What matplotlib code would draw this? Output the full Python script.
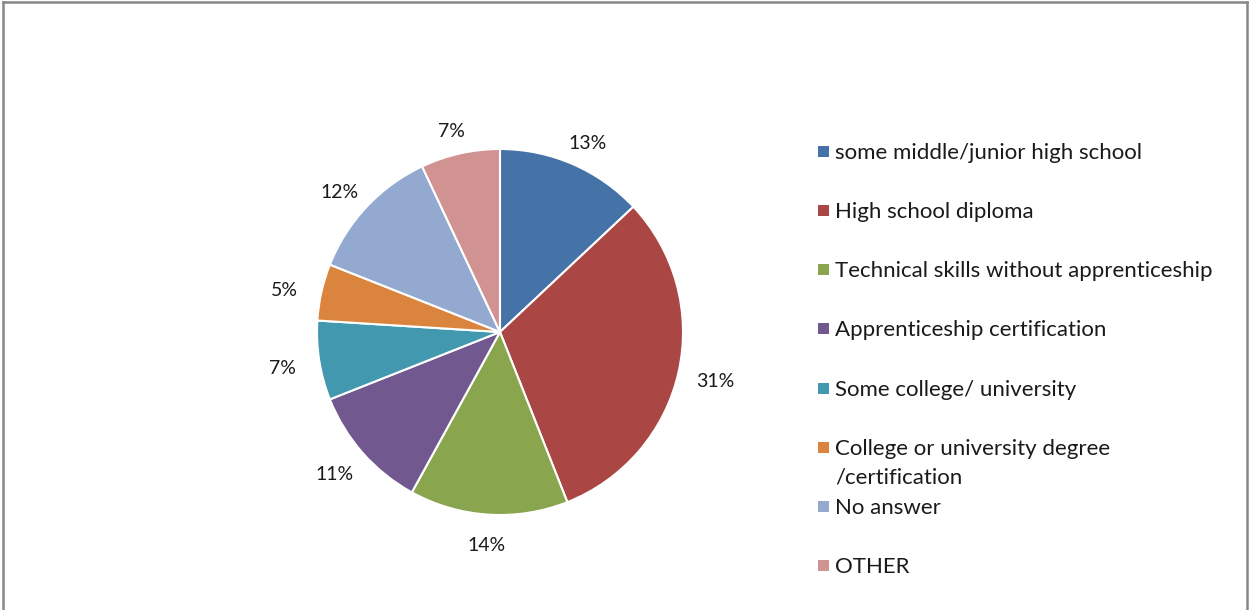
import numpy as np
import matplotlib.pyplot as plt
from matplotlib.lines import Line2D
from matplotlib.patches import Rectangle

plt.rcParams['font.family'] = ['Lato', 'DejaVu Sans']

categories = [
    "some middle/junior high school",
    "High school diploma",
    "Technical skills without apprenticeship",
    "Apprenticeship certification",
    "Some college/ university",
    "College or university degree\n/certification",
    "No answer",
    "OTHER",
]
shares = [13, 31, 14, 11, 7, 5, 12, 7]
colors = ["#4572A7", "#AA4643", "#89A54E", "#71588F",
          "#4198AF", "#DB843D", "#93A9CF", "#D19392"]

W, H = 1250, 610
fig = plt.figure(figsize=(W / 100, H / 100), dpi=100)
TEXT = "#1a1a1a"

# pie centred at (500, 332) px with a 183 px radius
cx, cy, r = 500, 332, 183
ax = fig.add_axes([(cx - r) / W, (H - cy - r) / H, 2 * r / W, 2 * r / H])
wedges, _ = ax.pie(
    shares, colors=colors, startangle=90, counterclock=False,
    wedgeprops=dict(edgecolor="white", linewidth=1.5),
)
ax.set_xlim(-1, 1)
ax.set_ylim(-1, 1)
ax.set_aspect("equal")
ax.axis("off")

# percentage labels just outside each wedge, pushed out by half the label box
for w, val in zip(wedges, shares):
    theta = np.deg2rad((w.theta1 + w.theta2) / 2)
    c, s = np.cos(theta), np.sin(theta)
    ax.annotate(f"{val}%", xy=(1.1 * c, 1.1 * s),
                xytext=(14 * c, 6 * s - 3), textcoords="offset points",
                ha="center", va="center", fontsize=14, color=TEXT,
                annotation_clip=False)

# legend entries, one row every 59 px
row_y = [152, 211, 270, 329, 389, 448, 507, 566]
for y, label, color in zip(row_y, categories, colors):
    fig.patches.append(Rectangle((818 / W, 1 - (y + 5) / H), 11 / W, 11 / H,
                                 transform=fig.transFigure, facecolor=color,
                                 edgecolor="none"))
    for i, line in enumerate(label.split("\n")):
        fig.text(835 / W, 1 - (y + 7 + 28 * i) / H, line, fontsize=16,
                 color=TEXT, va="baseline", ha="left")

# chart frame (left, top, right edges)
frame = dict(color="#878787", linewidth=1.8, transform=fig.transFigure)
fig.lines.append(Line2D([3 / W, 3 / W], [0, 1 - 2 / H], **frame))
fig.lines.append(Line2D([3 / W, 1247 / W], [1 - 2 / H, 1 - 2 / H], **frame))
fig.lines.append(Line2D([1247 / W, 1247 / W], [0, 1 - 2 / H], **frame))

fig.savefig("out.png", dpi=100, facecolor="white")
